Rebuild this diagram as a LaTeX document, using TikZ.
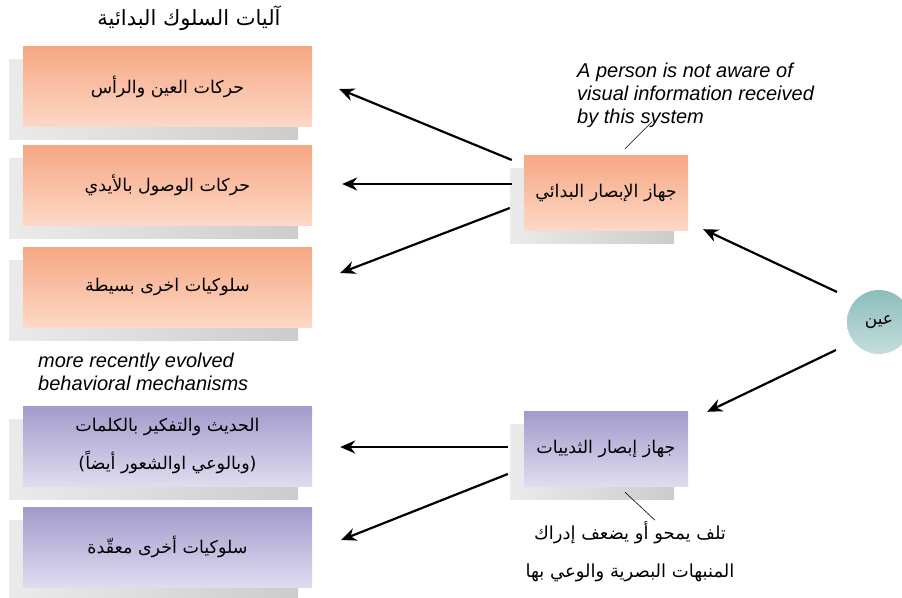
\documentclass[tikz,border=0pt]{standalone}
\usepackage{fontspec}
\setmainfont{Liberation Sans}
\newfontfamily\arabicfont[Script=Arabic]{DejaVu Sans}
\TeXXeTstate=1
\usetikzlibrary{arrows.meta,shadows}

\definecolor{peachtop}{HTML}{F6A783}
\definecolor{peachbot}{HTML}{FDD8C6}
\definecolor{lilactop}{HTML}{A29BCB}
\definecolor{lilacbot}{HTML}{DEDCF0}
\definecolor{tealtop}{HTML}{8CBDBB}
\definecolor{tealbot}{HTML}{C4DEDC}

\begin{document}
\begin{tikzpicture}[x=1pt, y=-1pt,
	>={Stealth[length=15pt,width=13pt]},
	box/.style={rectangle, inner sep=0pt, align=center,
		font=\arabicfont\fontsize{17.5}{38}\selectfont,
		general shadow={shadow xshift=-14pt, shadow yshift=-13pt, left color=black!8, right color=black!20}},
	oldbox/.style={box, top color=peachtop, bottom color=peachbot},
	newbox/.style={box, top color=lilactop, bottom color=lilacbot},
	wide/.style={minimum width=289pt, minimum height=80pt},
	narrow/.style={minimum width=164pt, minimum height=75pt},
	eyeball/.style={circle, minimum size=64pt, inner sep=0pt, top color=tealtop, bottom color=tealbot, font=\arabicfont\fontsize{17}{20}\selectfont},
	title/.style={font=\arabicfont\fontsize{21}{24}\selectfont, inner sep=0pt},
	arnote/.style={font=\arabicfont\fontsize{18}{38}\selectfont, align=center, inner sep=0pt},
	note/.style={font=\itshape\fontsize{20}{23}\selectfont, align=left, inner sep=0pt, anchor=west},
	arrow/.style={->, line width=2.2pt},
	pointer/.style={line width=0.6pt}
	]
	\useasboundingbox (0,0) rectangle (902,597);

	% Nodes {boxes on the left, visual systems, eye}
	\node [oldbox, wide]	(eyehead)	at (167.5,86.5)	{\beginR حركات العين والرأس\endR};
	\node [oldbox, wide]	(reach)		at (167.5,185.5)	{\beginR حركات الوصول بالأيدي\endR};
	\node [oldbox, wide]	(simple)	at (167.5,287)	{\beginR سلوكيات اخرى بسيطة\endR};
	\node [newbox, wide]	(speech)	at (167.5,446)	{\beginR الحديث والتفكير بالكلمات\endR\\\beginR (وبالوعي اوالشعور أيضاً)\endR};
	\node [newbox, wide]	(complex)	at (167.5,547)	{\beginR سلوكيات أخرى معقّدة\endR};
	\node [oldbox, narrow]	(prim)		at (606,192.5)	{\beginR جهاز الإبصار البدائي\endR};
	\node [newbox, narrow]	(blind)		at (606,448.5)	{\beginR جهاز إبصار الثدييات\endR};
	\node [eyeball]			(eye)		at (879,322)	{\beginR عين\endR};

	% Texts
	\node [title]	(oldtitle)	at (189,18)		{\beginR آليات السلوك البدائية\endR};
	\node [note]	(unaware)	at (577,95)		{A person is not aware of\\visual information received\\by this system};
	\node [note]	(recent)	at (38,372)		{more recently evolved\\behavioral mechanisms};
	\node [arnote]	(damage)	at (630,552)	{\beginR تلف يمحو أو يضعف إدراك\endR\\\beginR المنبهات البصرية والوعي بها\endR};

	% Paths
	\path [arrow]	([shift={(-12,-32.5)}]prim.west)	edge	([shift={(27,2.5)}]eyehead.east);
	\path [arrow]	([shift={(-12,-8.5)}]prim.west)		edge	([shift={(30,-1.5)}]reach.east);
	\path [arrow]	([shift={(-14,15.5)}]prim.west)		edge	([shift={(28,-14)}]simple.east);
	\path [arrow]	([shift={(-42,-30)}]eye.center)		edge	([shift={(15,-1)}]prim.south east);
	\path [arrow]	([shift={(-43,28)}]eye.center)		edge	([shift={(19,1)}]blind.north east);
	\path [arrow]	([shift={(-16,-1.5)}]blind.west)	edge	([shift={(28,1)}]speech.east);
	\path [arrow]	([shift={(-16,25.5)}]blind.west)	edge	([shift={(29,-7)}]complex.east);
	\path [pointer]	([shift={(19,-6)}]prim.north)		edge	([shift={(46,-33)}]prim.north);
	\path [pointer]	([shift={(19,6)}]blind.south)		edge	([shift={(49,34)}]blind.south);

\end{tikzpicture}
\end{document}
